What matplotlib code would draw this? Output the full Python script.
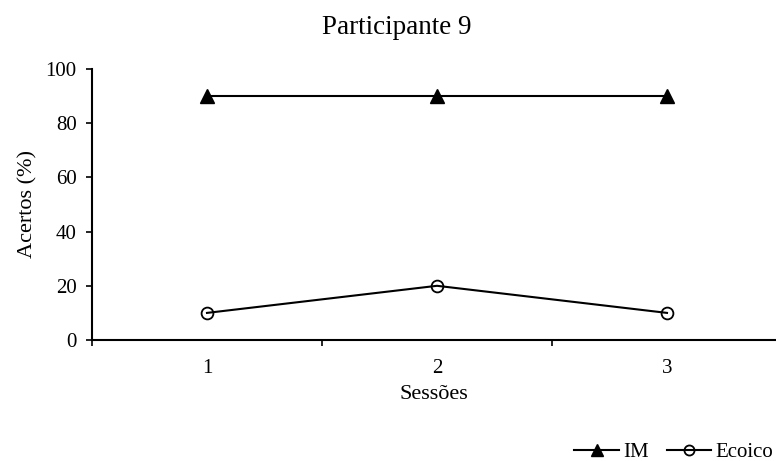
import matplotlib
matplotlib.use("Agg")
import matplotlib.pyplot as plt

plt.rcParams['font.family'] = ['Liberation Serif', 'DejaVu Serif']

sessions = [1, 2, 3]
session_labels = ["1", "2", "3"]
im_values = [90, 90, 90]
ecoico_values = [10, 20, 10]
y_ticks = [0, 20, 40, 60, 80, 100]

fig = plt.figure(figsize=(7.76, 4.61), dpi=100)
ax = fig.add_axes([92 / 776, 1 - 340 / 461, 1 - 92 / 776, (340 - 69) / 461])

ax.plot(sessions, im_values, color='black', lw=1.5, marker='^', ms=9.5,
        markerfacecolor='black', markeredgecolor='black', label='IM', clip_on=False)
ax.plot(sessions, ecoico_values, color='black', lw=1.5, marker='o', ms=8.5,
        markerfacecolor='none', markeredgecolor='black', markeredgewidth=1.3,
        label='Ecoico', clip_on=False)

ax.set_xlim(0.5, 0.5 + (776 - 92) / 230)
ax.set_ylim(0, 100)
ax.set_yticks(y_ticks)
ax.set_yticklabels([str(v) for v in y_ticks], fontsize=15)

# category labels centred, tick marks on category boundaries
ax.set_xticks([0.5, 1.5, 2.5])
ax.set_xticklabels([])
ax.set_xticks(sessions, minor=True)
ax.set_xticklabels(session_labels, minor=True, fontsize=15)
ax.tick_params(axis='x', which='minor', length=0, pad=14)
ax.tick_params(axis='x', which='major', direction='out', length=4, width=1.2)
ax.tick_params(axis='y', direction='out', length=4, width=1.2, pad=7)

for s in ['top', 'right']:
    ax.spines[s].set_visible(False)
for s in ['left', 'bottom']:
    ax.spines[s].set_linewidth(1.5)

ax.set_xlabel('Sessões', fontsize=16, labelpad=5)
ax.set_ylabel('Acertos (%)', fontsize=16, labelpad=6)
fig.text(397 / 776, 1 - 27 / 461, 'Participante 9', fontsize=19.5, ha='center', va='center')

handles, labels = ax.get_legend_handles_labels()
fig.legend(handles, labels, loc='center left', bbox_to_anchor=(566 / 776, 1 - 452 / 461),
           ncol=2, frameon=False, fontsize=15, handlelength=2.15, handletextpad=0.2,
           columnspacing=0.85, borderaxespad=0, markerscale=0.85)

fig.savefig('out.png', dpi=100)
